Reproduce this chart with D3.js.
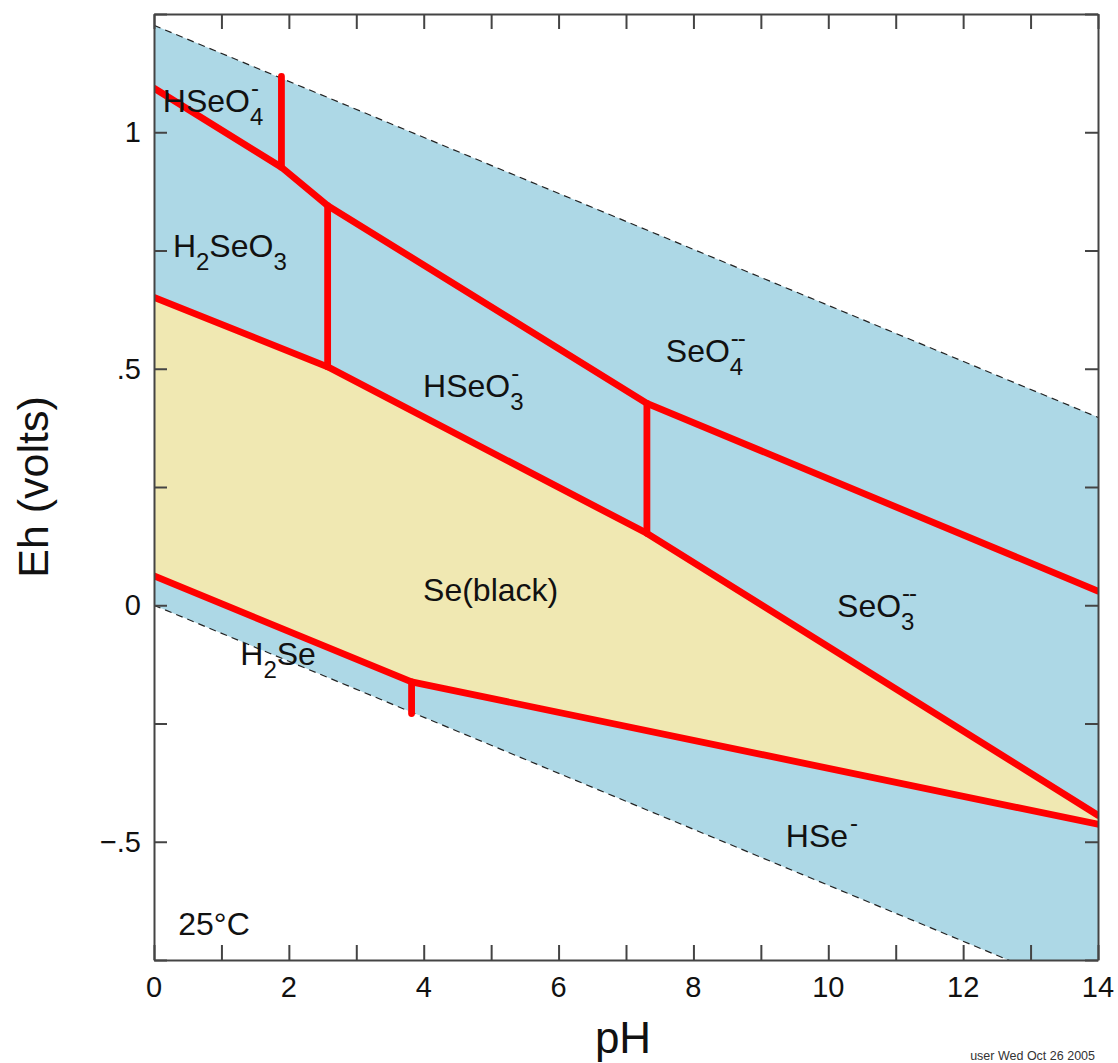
<!DOCTYPE html>
<html>
<head>
<meta charset="utf-8">
<script src="https://cdn.jsdelivr.net/npm/d3@7"></script>
<style>
  body { margin: 0; background: #fff; }
  text { font-family: "Liberation Sans", Arial, Helvetica, sans-serif; fill: #111; }
</style>
</head>
<body>
<div id="chart"></div>
<script>
// 坐标轴刻度
const phTicks = [0, 2, 4, 6, 8, 10, 12, 14];
const ehTicks = [1, 0.5, 0, -0.5];
const ehTickLabels = ["1", ".5", "0", "\u2212.5"];

// 水的稳定线 (Eh = a - 0.0592 pH)
const waterUpperIntercept = 1.226;
const waterLowerIntercept = 0;
const waterSlope = -0.0592;

// 红色边界线 (pH, Eh)
const upperPH = [0, 1.89, 2.575, 7.31, 14];
const upperEh = [1.093, 0.926, 0.845, 0.427, 0.030];
const sePH = [0, 2.575, 7.31, 14];
const seTopEh = [0.651, 0.504, 0.152, -0.444];
const seBotPH = [0, 3.82, 14];
const seBotEh = [0.062, -0.162, -0.463];

// 竖直边界线: pH, Eh 起点, Eh 终点
const verticalPH = [1.89, 2.575, 7.31, 3.82];
const verticalEh1 = [0.926, 0.845, 0.427, -0.162];
const verticalEh2 = [1.118, 0.504, 0.152, -0.229];

// 物种标签
const labels = [
  { parts: [["HSeO", ""], ["4", "sub", "-"]], ph: 0.13, eh: 1.043 },
  { parts: [["H", ""], ["2", "sub"], ["SeO", ""], ["3", "sub"]], ph: 0.28, eh: 0.736 },
  { parts: [["HSeO", ""], ["3", "sub", "-"]], ph: 3.99, eh: 0.44 },
  { parts: [["SeO", ""], ["4", "sub", "--"]], ph: 7.59, eh: 0.514 },
  { parts: [["Se(black)", ""]], ph: 3.99, eh: 0.009 },
  { parts: [["SeO", ""], ["3", "sub", "--"]], ph: 10.13, eh: -0.025 },
  { parts: [["H", ""], ["2", "sub"], ["Se", ""]], ph: 1.28, eh: -0.126 },
  { parts: [["HSe", ""], ["", "sub", "-"]], ph: 9.37, eh: -0.511 },
  { parts: [["25\u00B0C", ""]], ph: 0.36, eh: -0.697 }
];

const width = 1118, height = 1063;
const x = d3.scaleLinear().domain([0, 14]).range([154, 1098]);
const y = d3.scaleLinear().domain([-0.75, 1.25]).range([960, 14]);

const svg = d3.select("#chart").append("svg")
  .attr("width", width).attr("height", height);

svg.append("defs").append("clipPath").attr("id", "plot")
  .append("rect")
  .attr("x", x(0)).attr("y", y(1.25))
  .attr("width", x(14) - x(0)).attr("height", y(-0.75) - y(1.25));

const plot = svg.append("g").attr("clip-path", "url(#plot)");

// 水稳定区 (蓝色)
const wUp = ph => waterUpperIntercept + waterSlope * ph;
const wLo = ph => waterLowerIntercept + waterSlope * ph;
plot.append("path")
  .attr("d", d3.line()([[x(0), y(wUp(0))], [x(14), y(wUp(14))], [x(14), y(wLo(14))], [x(0), y(wLo(0))]]) + "Z")
  .attr("fill", "#add8e6");

// Se(black) 区 (黄色)
const seTop = sePH.map((p, i) => [x(p), y(seTopEh[i])]);
const seBot = seBotPH.map((p, i) => [x(p), y(seBotEh[i])]).reverse();
plot.append("path")
  .attr("d", d3.line()(seTop.concat(seBot)) + "Z")
  .attr("fill", "#f0e8b2");

// 虚线 (水的稳定边界)
[wUp, wLo].forEach(f => {
  plot.append("line")
    .attr("x1", x(0)).attr("y1", y(f(0)))
    .attr("x2", x(14)).attr("y2", y(f(14)))
    .attr("stroke", "#222").attr("stroke-width", 1.2)
    .attr("stroke-dasharray", "7,5");
});

// 红色边界线
const red = { stroke: "#ff0000", width: 6.8 };
const lineGen = d3.line().x(d => x(d[0])).y(d => y(d[1]));
[[upperPH, upperEh], [sePH, seTopEh], [seBotPH, seBotEh]].forEach(([ps, es]) => {
  plot.append("path")
    .attr("d", lineGen(ps.map((p, i) => [p, es[i]])))
    .attr("fill", "none")
    .attr("stroke", red.stroke).attr("stroke-width", red.width)
    .attr("stroke-linejoin", "round").attr("stroke-linecap", "round");
});
verticalPH.forEach((p, i) => {
  plot.append("line")
    .attr("x1", x(p)).attr("y1", y(verticalEh1[i]))
    .attr("x2", x(p)).attr("y2", y(verticalEh2[i]))
    .attr("stroke", red.stroke).attr("stroke-width", red.width)
    .attr("stroke-linecap", "round");
});

// 坐标轴 (四边刻度向内)
const axisColor = "#444";
const xt = d3.range(0, 15, 1);
const yt = d3.range(-0.75, 1.26, 0.25);
const axBottom = svg.append("g").attr("transform", `translate(0,${y(-0.75)})`)
  .call(d3.axisBottom(x).tickValues(xt).tickSizeInner(-15).tickSizeOuter(0).tickFormat(""));
const axTop = svg.append("g").attr("transform", `translate(0,${y(1.25)})`)
  .call(d3.axisTop(x).tickValues(xt).tickSizeInner(-15).tickSizeOuter(0).tickFormat(""));
const axLeft = svg.append("g").attr("transform", `translate(${x(0)},0)`)
  .call(d3.axisLeft(y).tickValues(yt).tickSizeInner(-13).tickSizeOuter(0).tickFormat(""));
const axRight = svg.append("g").attr("transform", `translate(${x(14)},0)`)
  .call(d3.axisRight(y).tickValues(yt).tickSizeInner(-13).tickSizeOuter(0).tickFormat(""));
[axBottom, axTop, axLeft, axRight].forEach(g => {
  g.selectAll("path, line").attr("stroke", axisColor).attr("stroke-width", 2);
});

// 刻度标签
svg.selectAll(".xlab").data(phTicks).join("text")
  .attr("x", d => x(d)).attr("y", 997)
  .attr("text-anchor", "middle").style("font-size", "29px")
  .text(d => d);
svg.selectAll(".ylab").data(ehTicks).join("text")
  .attr("x", 141).attr("y", d => y(d) + 10)
  .attr("text-anchor", "end").style("font-size", "29px")
  .text((d, i) => ehTickLabels[i]);

// 轴标题
svg.append("text").attr("x", 623).attr("y", 1053)
  .attr("text-anchor", "middle").style("font-size", "44px").text("pH");
svg.append("text")
  .attr("transform", "translate(48,487) rotate(-90)")
  .attr("text-anchor", "middle").style("font-size", "43px").text("Eh (volts)");

svg.append("text").attr("x", 1095).attr("y", 1060)
  .attr("text-anchor", "end").style("font-size", "12.5px").style("fill", "#333")
  .text("user Wed Oct 26 2005");

// 物种标签: 下标与上标叠放
labels.forEach(l => {
  let cx = x(l.ph);
  const by = y(l.eh);
  l.parts.forEach(([t, kind, sup]) => {
    const isSub = kind === "sub";
    const el = svg.append("text")
      .attr("x", cx).attr("y", isSub ? by + 13 : by)
      .style("font-size", isSub ? "24px" : "32px")
      .text(t);
    const w = t ? el.node().getComputedTextLength() : 0;
    if (sup) {
      svg.append("text")
        .attr("x", cx + (t ? 1 : 2)).attr("y", by - 16)
        .style("font-size", "24px").style("letter-spacing", "-1px")
        .text(sup);
    }
    cx += w;
  });
});
</script>
</body>
</html>
